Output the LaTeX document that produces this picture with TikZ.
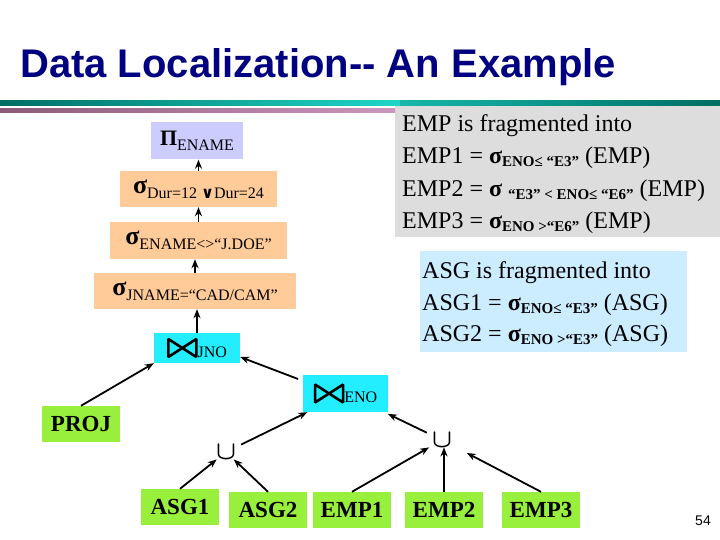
\documentclass[tikz,border=0pt]{standalone}
\usepackage{fontspec}
\usepackage{graphicx}
\setmainfont{Liberation Serif}
\newfontfamily\headfont{Liberation Sans}
\newfontfamily\symfont{DejaVu Sans}
\usetikzlibrary{arrows.meta}

\definecolor{headblue}{RGB}{0,0,128}
\definecolor{lavbox}{RGB}{204,204,255}
\definecolor{peachbox}{RGB}{255,204,153}
\definecolor{joinbox}{RGB}{34,238,255}
\definecolor{relbox}{RGB}{153,240,60}
\definecolor{fraggrey}{RGB}{221,221,221}
\definecolor{fragblue}{RGB}{204,236,255}
\definecolor{tealdark}{RGB}{0,110,100}
\definecolor{teallight}{RGB}{30,215,200}
\definecolor{mauvedark}{RGB}{140,90,120}
\definecolor{mauvelight}{RGB}{205,150,190}

\newcommand\sel[1][26]{{\fontsize{#1}{#1}\selectfont\bfseries σ}}
\newcommand\lowsub[1]{\raisebox{-5pt}{\fontsize{16}{16}\selectfont #1}}
\newcommand\fragsub[1]{\raisebox{-3pt}{\fontsize{15}{15}\selectfont\bfseries #1}}
\newcommand\joinsym{\tikz[baseline=0pt, x=1pt, y=1pt, line width=2.6pt, line join=bevel]
  \draw (0,0) -- (0,18) -- (28,0) -- (28,18) -- cycle;}

\tikzset{
  opbox/.style={fill=#1, inner sep=0pt, minimum height=36pt},
  relnode/.style={fill=relbox, inner sep=0pt, minimum width=78pt, minimum height=36pt,
    font=\fontsize{23}{23}\selectfont\bfseries},
  unionnode/.style={inner sep=0pt, minimum width=30pt, minimum height=14pt},
  fragtext/.style={anchor=north west, align=left, inner sep=0pt,
    font=\fontsize{24}{#1}\selectfont},
  flow/.style={->, line width=1.8pt}
}

\begin{document}
\begin{tikzpicture}[x=1pt, y=-1pt, >={Stealth[length=9pt, width=7pt]}]
\useasboundingbox (0,0) rectangle (720,540);

% title and rules
\node [anchor=base west, inner sep=0pt, text=headblue,
  font=\headfont\bfseries\fontsize{40}{40}\selectfont] (title) at (20,78) {Data Localization-{}- An Example};
\fill [fraggrey] (395,103) rectangle (720,237);
\shade [left color=tealdark, right color=teallight] (0,101) rectangle (400,106);
\shade [left color=teallight!70!tealdark, right color=tealdark] (400,101) rectangle (720,106);
\shade [left color=mauvedark, right color=mauvelight] (0,109) rectangle (395,112.5);
\fill [fragblue] (420,251) rectangle (687,352);

% fragments
\node [fragtext=32.3pt] (frag-emp) at (402,114.5)
  {EMP is fragmented into\\
   EMP1 = \sel[24]\fragsub{ENO≤ “E3”} (EMP)\\
   EMP2 = \sel[24] \fragsub{“E3” < ENO≤ “E6”} (EMP)\\
   EMP3 = \sel[24]\fragsub{ENO >“E6”} (EMP)};
\node [fragtext=31.5pt] (frag-asg) at (422,261.5)
  {ASG is fragmented into\\
   ASG1 = \sel[24]\fragsub{ENO≤ “E3”} (ASG)\\
   ASG2 = \sel[24]\fragsub{ENO >“E3”} (ASG)};

% operators
\node [opbox=lavbox, minimum width=92pt, minimum height=37pt] (pi-ename) at (197,141)
  {{\fontsize{22}{22}\selectfont\bfseries Π}\lowsub{ENAME}};
\node [opbox=peachbox, minimum width=157pt] (sel-dur) at (198.5,189)
  {\sel\lowsub{Dur=12 {\symfont\bfseries ∨}Dur=24}};
\node [opbox=peachbox, minimum width=177pt, minimum height=37pt] (sel-ename) at (198.5,240.5)
  {\sel\lowsub{ENAME<>“J.DOE”}};
\node [opbox=peachbox, minimum width=202pt] (sel-jname) at (195,291)
  {\sel\lowsub{JNAME=“CAD/CAM”}};
\node [opbox=joinbox, minimum width=86pt, minimum height=30pt] (join-jno) at (197,348)
  {\joinsym{\fontsize{16}{16}\selectfont JNO}};
\node [opbox=joinbox, minimum width=85pt, minimum height=37pt] (join-eno) at (345.5,393.5)
  {\joinsym{\fontsize{16}{16}\selectfont ENO}};

\node [unionnode] (union-asg) at (226,452) {\scalebox{2.6}{\boldmath$\cup$}};
\node [unionnode] (union-emp) at (442,440) {\scalebox{2.6}{\boldmath$\cup$}};

% relations
\node [relnode] (rel-PROJ) at (81,424) {PROJ};
\foreach \r/\x/\y in {ASG1/180/507, ASG2/268/510, EMP1/352/510, EMP2/444/510, EMP3/541/510}
  \node [relnode] (rel-\r) at (\x,\y) {\r};

% edges
\foreach \a/\b in {sel-dur/pi-ename, sel-ename/sel-dur, sel-jname/sel-ename, join-jno/sel-jname}
  \draw [flow] (\a.north) -- (\a.north |- \b.south);

\draw [flow] (rel-PROJ.north) -- (join-jno.south west);
\draw [flow, shorten <=5pt] ([yshift=-6pt]join-eno.north west) -- ([yshift=-9pt]join-jno.east);

\foreach \r in {ASG1,ASG2}
  \draw [flow] (rel-\r.north) -- (union-asg);
\foreach \r/\s in {EMP1/0pt, EMP3/12pt}
  \draw [flow, shorten >=\s] (rel-\r.north) -- (union-emp);
\draw [flow] (rel-EMP2.north) -- (rel-EMP2.north |- union-emp.south);

\draw [flow] (union-asg) -- (join-eno);
\draw [flow, shorten >=4pt] (union-emp) -- (join-eno);

\node [font=\headfont\fontsize{14}{14}\selectfont] (page-no) at (703,521) {54};
\end{tikzpicture}
\end{document}
